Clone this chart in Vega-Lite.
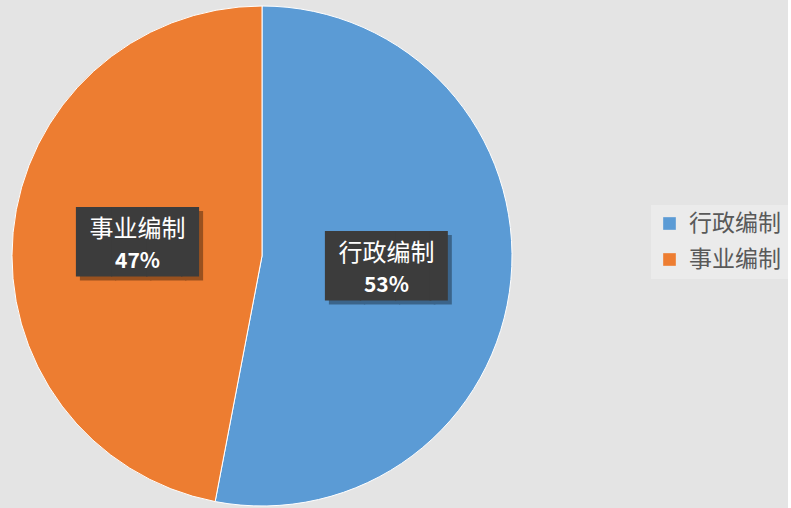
{
  "$schema": "https://vega.github.io/schema/vega-lite/v6.json",
  "width": 524,
  "height": 504,
  "padding": {"left": 0, "top": 4, "right": 0, "bottom": 0},
  "background": "#e4e4e4",
  "config": {"view": {"stroke": null}},
  "data": {"values": [
    {"name": "行政编制", "value": 0.53},
    {"name": "事业编制", "value": 0.47}
  ]},
  "encoding": {
    "theta": {"field": "value", "type": "quantitative", "stack": true},
    "order": {"field": "value", "type": "quantitative", "sort": "descending"}
  },
  "layer": [
    {
      "mark": {"type": "arc", "outerRadius": 250, "stroke": "#ffffff", "strokeWidth": 1},
      "encoding": {
        "color": {
          "field": "name", "type": "nominal",
          "sort": ["行政编制", "事业编制"],
          "scale": {"domain": ["行政编制", "事业编制"], "range": ["#5b9bd5", "#ed7d31"]},
          "legend": {
            "title": null, "orient": "none", "legendX": 651, "legendY": 201,
            "symbolType": "square", "symbolSize": 160, "symbolStrokeWidth": 0,
            "labelFontSize": 23, "labelColor": "#595959", "labelFont": "Noto Sans CJK SC",
            "labelOffset": 8, "rowPadding": 12, "padding": 7,
            "fillColor": "#ebebeb"
          }
        }
      }
    },
    {
      "mark": {"type": "text", "radius": 125, "text": "███▌", "font": "DejaVu Sans Mono", "fontSize": 58.4, "baseline": "middle", "align": "center", "dx": 13, "dy": 4, "color": "#000000", "opacity": 0.35},
      "encoding": {"detail": {"field": "name", "type": "nominal"}}
    },
    {
      "mark": {"type": "text", "radius": 125, "text": "███▌", "font": "DejaVu Sans Mono", "fontSize": 58.4, "baseline": "middle", "align": "center", "dx": 9, "color": "#3c3c3c"},
      "encoding": {"detail": {"field": "name", "type": "nominal"}}
    },
    {
      "mark": {"type": "text", "radius": 125, "dy": -14, "font": "Noto Sans CJK SC", "fontSize": 24, "color": "#ffffff", "baseline": "middle"},
      "encoding": {"text": {"field": "name", "type": "nominal"}, "detail": {"field": "name", "type": "nominal"}}
    },
    {
      "mark": {"type": "text", "radius": 125, "dy": 18, "font": "Noto Sans CJK SC", "fontSize": 21, "fontWeight": "bold", "color": "#ffffff", "baseline": "middle"},
      "encoding": {"text": {"field": "value", "type": "quantitative", "format": ".0%"}, "detail": {"field": "name", "type": "nominal"}}
    }
  ]
}
